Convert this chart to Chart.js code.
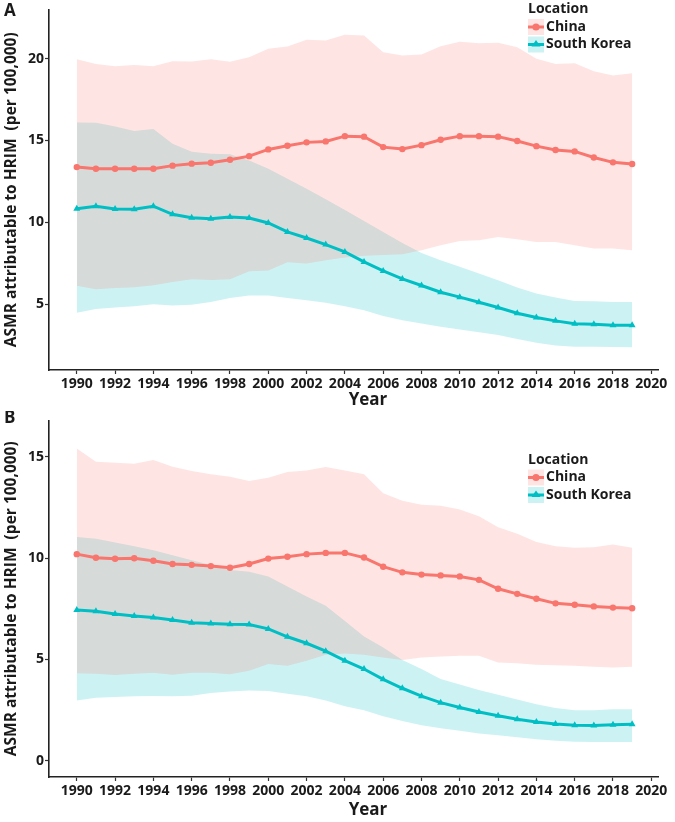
<!DOCTYPE html>
<html>
<head>
<meta charset="utf-8">
<script src="https://cdn.jsdelivr.net/npm/chart.js@4.4.1/dist/chart.umd.min.js"></script>
<style>
  html, body { margin: 0; padding: 0; background: #fff; }
  #wrap { position: relative; width: 675px; height: 822px; }
  canvas { position: absolute; left: 0; }
  #cA { top: 0; }
  #cB { top: 411px; }
</style>
</head>
<body>
<div id="wrap">
  <canvas id="cA" width="675" height="411"></canvas>
  <canvas id="cB" width="675" height="411"></canvas>
</div>
<script>
// ---------- DATA ----------
const years = [1990,1991,1992,1993,1994,1995,1996,1997,1998,1999,2000,2001,2002,2003,2004,2005,2006,2007,2008,2009,2010,2011,2012,2013,2014,2015,2016,2017,2018,2019];
const xTickLabels = [1990,1992,1994,1996,1998,2000,2002,2004,2006,2008,2010,2012,2014,2016,2018,2020];
const seriesNames = ["China", "South Korea"];
const legendTitle = "Location";
const xTitle = "Year";
const yTitle = "ASMR attributable to HRIM  (per 100,000)";

// Panel A
const yTicksA = [5,10,15,20];
const chinaA      = [13.37,13.27,13.27,13.27,13.27,13.46,13.58,13.64,13.82,14.04,14.45,14.67,14.88,14.94,15.26,15.23,14.59,14.47,14.71,15.04,15.26,15.26,15.23,14.96,14.65,14.41,14.33,13.96,13.66,13.56];
const chinaAUpper = [19.96,19.67,19.53,19.6,19.53,19.84,19.82,19.96,19.8,20.08,20.59,20.73,21.14,21.1,21.45,21.4,20.38,20.18,20.24,20.75,21.02,20.93,20.96,20.69,19.98,19.67,19.71,19.23,18.96,19.1];
const chinaALower = [6.12,5.91,5.99,6.04,6.16,6.36,6.52,6.48,6.52,7.01,7.05,7.56,7.48,7.68,7.85,7.95,8.0,8.05,8.29,8.6,8.86,8.9,9.1,8.96,8.8,8.8,8.6,8.4,8.4,8.29];
const koreaA      = [10.83,10.98,10.81,10.79,10.98,10.49,10.28,10.22,10.33,10.26,9.96,9.41,9.04,8.64,8.19,7.58,7.03,6.54,6.14,5.73,5.43,5.12,4.8,4.45,4.19,3.98,3.8,3.78,3.72,3.72];
const koreaAUpper = [16.1,16.08,15.85,15.57,15.69,14.8,14.3,14.19,14.15,13.78,13.27,12.66,12.05,11.4,10.75,10.08,9.41,8.74,8.13,7.68,7.28,6.87,6.46,6.02,5.65,5.41,5.2,5.18,5.14,5.14];
const koreaALower = [4.47,4.7,4.8,4.88,5.0,4.92,4.96,5.14,5.38,5.53,5.53,5.38,5.24,5.08,4.88,4.63,4.27,4.02,3.82,3.62,3.45,3.29,3.11,2.88,2.64,2.48,2.4,2.4,2.38,2.37];

// Panel B
const yTicksB = [0,5,10,15];
const chinaB      = [10.2,10.02,9.97,10.0,9.87,9.71,9.67,9.61,9.53,9.71,9.98,10.07,10.2,10.26,10.26,10.03,9.58,9.3,9.19,9.15,9.1,8.93,8.49,8.24,8.0,7.77,7.7,7.62,7.56,7.53];
const chinaBUpper = [15.41,14.76,14.71,14.66,14.84,14.51,14.3,14.14,14.02,13.81,13.97,14.25,14.33,14.5,14.33,14.14,13.21,12.84,12.64,12.59,12.4,12.07,11.53,11.2,10.8,10.59,10.52,10.54,10.67,10.52];
const chinaBLower = [4.32,4.29,4.24,4.29,4.34,4.25,4.35,4.34,4.27,4.45,4.78,4.69,4.94,5.23,5.29,5.23,5.1,4.97,5.1,5.15,5.18,5.18,4.85,4.82,4.74,4.72,4.69,4.64,4.61,4.64];
const koreaB      = [7.44,7.38,7.25,7.15,7.07,6.95,6.81,6.78,6.74,6.73,6.51,6.12,5.8,5.41,4.94,4.53,4.02,3.58,3.19,2.87,2.63,2.41,2.22,2.05,1.92,1.82,1.76,1.74,1.78,1.8];
const koreaBUpper = [11.04,10.96,10.77,10.59,10.39,10.15,9.9,9.66,9.42,9.33,9.09,8.6,8.11,7.65,6.9,6.14,5.59,4.97,4.53,4.04,3.76,3.5,3.26,3.02,2.79,2.61,2.49,2.49,2.54,2.54];
const koreaBLower = [2.98,3.11,3.15,3.18,3.2,3.18,3.21,3.34,3.42,3.47,3.44,3.31,3.18,2.98,2.69,2.49,2.2,1.96,1.76,1.6,1.48,1.35,1.26,1.16,1.06,0.99,0.94,0.93,0.93,0.93];

// ---------- STYLE ----------
const RED = '#F8766D', CYAN = '#00BFC4';
const RED_FILL = 'rgba(248,118,109,0.2)', CYAN_FILL = 'rgba(0,191,196,0.2)';
const FONT = '"Open Sans", "Noto Sans", sans-serif';
const TXT = '#1a1a1a';

function pts(arr) { return years.map((y, i) => ({ x: y, y: arr[i] })); }

function makeDatasets(cn, cnU, cnL, kr, krU, krL) {
  const band = { borderWidth: 0, pointRadius: 0, pointHoverRadius: 0, tension: 0 };
  return [
    { label: seriesNames[1], data: pts(kr), borderColor: CYAN, backgroundColor: CYAN, borderWidth: 3,
      pointStyle: 'triangle', pointRadius: 4, pointBorderWidth: 0, pointBackgroundColor: CYAN, fill: false, tension: 0 },
    { label: seriesNames[0], data: pts(cn), borderColor: RED, backgroundColor: RED, borderWidth: 3,
      pointStyle: 'circle', pointRadius: 3.2, pointBorderWidth: 0, pointBackgroundColor: RED, fill: false, tension: 0 },
    Object.assign({ label: 'cnU', data: pts(cnU), fill: '+1', backgroundColor: RED_FILL, borderColor: 'rgba(0,0,0,0)' }, band),
    Object.assign({ label: 'cnL', data: pts(cnL), fill: false, borderColor: 'rgba(0,0,0,0)' }, band),
    Object.assign({ label: 'krU', data: pts(krU), fill: '+1', backgroundColor: CYAN_FILL, borderColor: 'rgba(0,0,0,0)' }, band),
    Object.assign({ label: 'krL', data: pts(krL), fill: false, borderColor: 'rgba(0,0,0,0)' }, band)
  ];
}

function overlayPlugin(panelLetter, letterY, legendY, yearY) {
  return {
    id: 'overlay' + panelLetter,
    afterDraw(chart) {
      const ctx = chart.ctx;
      ctx.save();
      ctx.fillStyle = TXT;
      ctx.textBaseline = 'middle';
      ctx.font = 'bold 17px ' + FONT;
      ctx.textAlign = 'left';
      ctx.fillText(panelLetter, 4, letterY);
      ctx.font = 'bold 17px ' + FONT;
      ctx.textAlign = 'center';
      ctx.fillText(xTitle, 368, yearY);
      const lx = 528;
      ctx.textAlign = 'left';
      ctx.font = 'bold 14px ' + FONT;
      ctx.fillText(legendTitle, lx, legendY);
      const items = [
        { name: seriesNames[0], color: RED, fill: RED_FILL, shape: 'circle' },
        { name: seriesNames[1], color: CYAN, fill: CYAN_FILL, shape: 'triangle' }
      ];
      items.forEach((it, i) => {
        const cy = legendY + 17.5 * (i + 1);
        ctx.fillStyle = it.fill;
        ctx.fillRect(lx, cy - 8, 16, 16);
        ctx.strokeStyle = it.color;
        ctx.lineWidth = 3;
        ctx.beginPath(); ctx.moveTo(lx, cy); ctx.lineTo(lx + 16, cy); ctx.stroke();
        ctx.fillStyle = it.color;
        ctx.beginPath();
        if (it.shape === 'circle') {
          ctx.arc(lx + 8, cy, 3.6, 0, Math.PI * 2);
        } else {
          ctx.moveTo(lx + 8, cy - 4.5); ctx.lineTo(lx + 12.5, cy + 2); ctx.lineTo(lx + 3.5, cy + 2); ctx.closePath();
        }
        ctx.fill();
        ctx.fillStyle = TXT;
        ctx.font = 'bold 14px ' + FONT;
        ctx.fillText(it.name, lx + 18, cy);
      });
      ctx.restore();
    }
  };
}

function makeChart(id, datasets, yMin, yMax, yTicks, padTop, xHeight, plugin) {
  return new Chart(document.getElementById(id), {
    type: 'line',
    data: { datasets },
    options: {
      responsive: false,
      animation: false,
      events: [],
      layout: { padding: { left: 0, right: 17, top: padTop, bottom: 0 } },
      plugins: { legend: { display: false }, tooltip: { enabled: false }, filler: { propagate: false } },
      scales: {
        x: {
          type: 'linear', min: 1988.55, max: 2020.35,
          afterBuildTicks: s => { s.ticks = xTickLabels.map(v => ({ value: v })); },
          afterFit: s => { s.height = xHeight; },
          ticks: { autoSkip: false, maxRotation: 0, padding: 2, color: TXT, font: { family: FONT, size: 14, weight: 'bold' }, callback: v => String(v) },
          grid: { display: true, drawOnChartArea: false, drawTicks: true, tickLength: 4, tickColor: '#333', tickWidth: 1.2 },
          border: { display: true, color: '#222', width: 1.6 },
          title: { display: false }
        },
        y: {
          type: 'linear', min: yMin, max: yMax,
          afterBuildTicks: s => { s.ticks = yTicks.map(v => ({ value: v })); },
          afterFit: s => { s.width = 49; },
          ticks: { padding: 1, color: TXT, font: { family: FONT, size: 14, weight: 'bold' }, callback: v => String(v) },
          grid: { display: true, drawOnChartArea: false, drawTicks: true, tickLength: 4, tickColor: '#333', tickWidth: 1.2 },
          border: { display: true, color: '#222', width: 1.6 },
          title: { display: true, text: yTitle, color: TXT, font: { family: FONT, size: 15.5, weight: 'bold' }, padding: { top: 2, bottom: 0 } }
        }
      }
    },
    plugins: [plugin]
  });
}

makeChart('cA', makeDatasets(chinaA, chinaAUpper, chinaALower, koreaA, koreaAUpper, koreaALower),
  0.98, 23.0, yTicksA, 9, 41, overlayPlugin('A', 11, 9.5, 400));
makeChart('cB', makeDatasets(chinaB, chinaBUpper, chinaBLower, koreaB, koreaBUpper, koreaBLower),
  -0.8, 16.8, yTicksB, 6, 45, overlayPlugin('B', 7, 49, 399));
</script>
</body>
</html>
